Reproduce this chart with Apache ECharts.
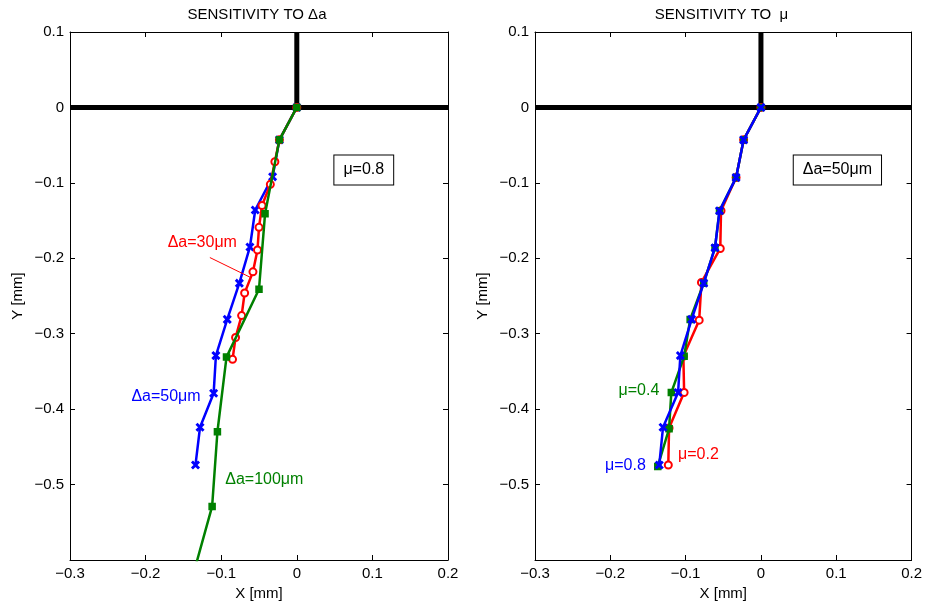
<!DOCTYPE html>
<html>
<head>
<meta charset="utf-8">
<script src="https://cdn.jsdelivr.net/npm/echarts@6/dist/echarts.min.js"></script>
<style>html,body{margin:0;padding:0;background:#fff}#c{width:925px;height:606px}</style>
</head>
<body>
<div id="c"></div>
<script>
// ---- Data (mm) ----
// Left panel: sensitivity to Δa (μ = 0.8)
const a50X  = [0, -0.023, -0.032, -0.055, -0.062, -0.076, -0.092, -0.107, -0.110, -0.128, -0.134];
const a50Y  = [0, -0.043, -0.092, -0.136, -0.185, -0.233, -0.281, -0.329, -0.379, -0.424, -0.474];
const a30X  = [0, -0.023, -0.029, -0.035, -0.046, -0.050, -0.052, -0.058, -0.069, -0.073, -0.081, -0.085];
const a30Y  = [0, -0.043, -0.072, -0.102, -0.130, -0.159, -0.189, -0.218, -0.246, -0.276, -0.305, -0.334];
const a100X = [0, -0.023, -0.042, -0.050, -0.093, -0.105, -0.112, -0.140];
const a100Y = [0, -0.043, -0.141, -0.241, -0.331, -0.430, -0.529, -0.630];
// Right panel: sensitivity to μ (Δa = 50 μm)
const mu08X = [0, -0.023, -0.033, -0.055, -0.061, -0.076, -0.092, -0.107, -0.110, -0.130, -0.135];
const mu08Y = [0, -0.043, -0.093, -0.137, -0.186, -0.233, -0.281, -0.329, -0.378, -0.424, -0.474];
const mu02X = [0, -0.023, -0.033, -0.053, -0.054, -0.079, -0.082, -0.103, -0.102, -0.122, -0.123];
const mu02Y = [0, -0.043, -0.093, -0.137, -0.187, -0.232, -0.282, -0.330, -0.378, -0.425, -0.474];
const mu04X = [0, -0.023, -0.033, -0.055, -0.061, -0.076, -0.094, -0.102, -0.119, -0.122, -0.137];
const mu04Y = [0, -0.043, -0.093, -0.137, -0.186, -0.233, -0.281, -0.330, -0.378, -0.426, -0.476];
// Reference lines (surface and axis)
const surfX = [-0.3, 0.2], surfY = [0, 0];
const wallX = [0, 0], wallY = [0, 0.1];
// Leader line for Δa=30μm label
const leaderX = [-0.115, -0.062], leaderY = [-0.199, -0.225];
// Axis ranges / ticks
const xMin = -0.3, xMax = 0.2, yMin = -0.6, yMax = 0.1, tickStep = 0.1;
const titles = ['SENSITIVITY TO \u0394a', 'SENSITIVITY TO  \u03bc'];

const BLUE = '#0000ff', RED = '#ff0000', GREEN = '#008000';
const FONT = 'Liberation Sans, Arial, Helvetica, sans-serif';
const xShape = 'path://M0,1.4L1.4,0L5,3.6L8.6,0L10,1.4L6.4,5L10,8.6L8.6,10L5,6.4L1.4,10L0,8.6L3.6,5Z';

const pairs = (xs, ys) => xs.map((x, i) => [x, ys[i]]);
const fmt = v => { const r = Math.round(v * 10) / 10; return r < 0 ? '\u2212' + Math.abs(r) : String(r); };

const grids = [
  {left: 70, top: 32, width: 378, height: 529},
  {left: 535, top: 32, width: 377, height: 529}
];
const xAxes = [], yAxes = [];
grids.forEach((g, gi) => {
  const common = {interval: tickStep, splitLine: {show: false},
    axisLine: {show: true, onZero: false, lineStyle: {color: '#000', width: 1}},
    axisTick: {show: true, inside: true, length: 5, lineStyle: {color: '#000'}}};
  xAxes.push(Object.assign({}, common, {type: 'value', gridIndex: gi, position: 'bottom', min: xMin, max: xMax,
    axisLabel: {formatter: fmt, color: '#000', fontFamily: FONT, fontSize: 15, margin: 6},
    name: 'X [mm]', nameLocation: 'middle', nameGap: 26,
    nameTextStyle: {color: '#000', fontFamily: FONT, fontSize: 15}}));
  xAxes.push(Object.assign({}, common, {type: 'value', gridIndex: gi, position: 'top', min: xMin, max: xMax,
    axisLabel: {show: false}}));
  yAxes.push(Object.assign({}, common, {type: 'value', gridIndex: gi, position: 'left', min: yMin, max: yMax,
    axisLabel: {formatter: fmt, color: '#000', fontFamily: FONT, fontSize: 15, margin: 6, showMinLabel: false},
    name: 'Y [mm]', nameLocation: 'middle', nameGap: 45,
    nameTextStyle: {color: '#000', fontFamily: FONT, fontSize: 15}}));
  yAxes.push(Object.assign({}, common, {type: 'value', gridIndex: gi, position: 'right', min: yMin, max: yMax,
    axisLabel: {show: false}}));
});

function refSeries(gi) {
  return [
    {type: 'line', xAxisIndex: gi * 2, yAxisIndex: gi * 2, data: pairs(surfX, surfY), symbol: 'none',
      lineStyle: {color: '#000', width: 5}, silent: true, z: 1},
    {type: 'line', xAxisIndex: gi * 2, yAxisIndex: gi * 2, data: pairs(wallX, wallY), symbol: 'none',
      lineStyle: {color: '#000', width: 5}, silent: true, z: 1}
  ];
}
function dataSeries(gi, xs, ys, color, sym, size, z, extra) {
  return Object.assign({type: 'line', xAxisIndex: gi * 2, yAxisIndex: gi * 2, data: pairs(xs, ys),
    symbol: sym, symbolSize: size, showAllSymbol: true, clip: true,
    lineStyle: {color: color, width: 2.5}, itemStyle: {color: color, borderColor: color, borderWidth: 1.5},
    z: z, animation: false}, extra || {});
}
const redStyle = {itemStyle: {color: RED, borderColor: RED, borderWidth: 2.5}};

const series = [].concat(
  refSeries(0), refSeries(1),
  [
    dataSeries(0, a50X, a50Y, BLUE, xShape, 7, 3),
    dataSeries(0, a30X, a30Y, RED, 'emptyCircle', 7, 4, redStyle),
    dataSeries(0, a100X, a100Y, GREEN, 'rect', 6, 5),
    {type: 'line', xAxisIndex: 0, yAxisIndex: 0, data: pairs(leaderX, leaderY), symbol: 'none',
      lineStyle: {color: RED, width: 1}, z: 6},
    dataSeries(1, mu02X, mu02Y, RED, 'emptyCircle', 7, 3, redStyle),
    dataSeries(1, mu04X, mu04Y, GREEN, 'rect', 6, 4),
    dataSeries(1, mu08X, mu08Y, BLUE, xShape, 7, 5)
  ]
);

const chart = echarts.init(document.getElementById('c'), null, {renderer: 'canvas'});
chart.setOption({
  animation: false,
  backgroundColor: '#fff',
  grid: grids,
  xAxis: xAxes,
  yAxis: yAxes,
  series: series
});

// Text annotations anchored in data coordinates
const notes = [
  {gi: 0, text: '\u0394a=30\u03bcm', x: -0.125, y: -0.179, color: RED},
  {gi: 0, text: '\u0394a=50\u03bcm', x: -0.173, y: -0.383, color: BLUE},
  {gi: 0, text: '\u0394a=100\u03bcm', x: -0.043, y: -0.493, color: GREEN},
  {gi: 1, text: '\u03bc=0.4', x: -0.162, y: -0.376, color: GREEN},
  {gi: 1, text: '\u03bc=0.8', x: -0.180, y: -0.475, color: BLUE},
  {gi: 1, text: '\u03bc=0.2', x: -0.083, y: -0.460, color: RED}
];
const boxes = [
  {gi: 0, text: '\u03bc=0.8', x: 0.0886, y: -0.083},
  {gi: 1, text: '\u0394a=50\u03bcm', x: 0.1015, y: -0.083}
];
const graphics = [];
notes.forEach(n => {
  const p = chart.convertToPixel({gridIndex: n.gi}, [n.x, n.y]);
  graphics.push({type: 'text', x: p[0], y: p[1], z: 20,
    style: {text: n.text, fill: n.color, font: '16px ' + FONT, textAlign: 'center', textVerticalAlign: 'middle'}});
});
boxes.forEach(b => {
  const p = chart.convertToPixel({gridIndex: b.gi}, [b.x, b.y]);
  graphics.push({type: 'text', x: p[0], y: p[1], z: 20,
    style: {text: b.text, fill: '#000', font: '16px ' + FONT, textAlign: 'center', textVerticalAlign: 'middle',
      backgroundColor: '#fff', borderColor: '#000', borderWidth: 1, padding: [7, 9, 6, 9]}});
});
grids.forEach((g, gi) => {
  graphics.push({type: 'text', x: g.left + g.width / 2 - 2, y: 15, z: 20,
    style: {text: titles[gi], fill: '#000', font: '15px ' + FONT, textAlign: 'center', textVerticalAlign: 'middle'}});
});
chart.setOption({graphic: graphics});
</script>
</body>
</html>
